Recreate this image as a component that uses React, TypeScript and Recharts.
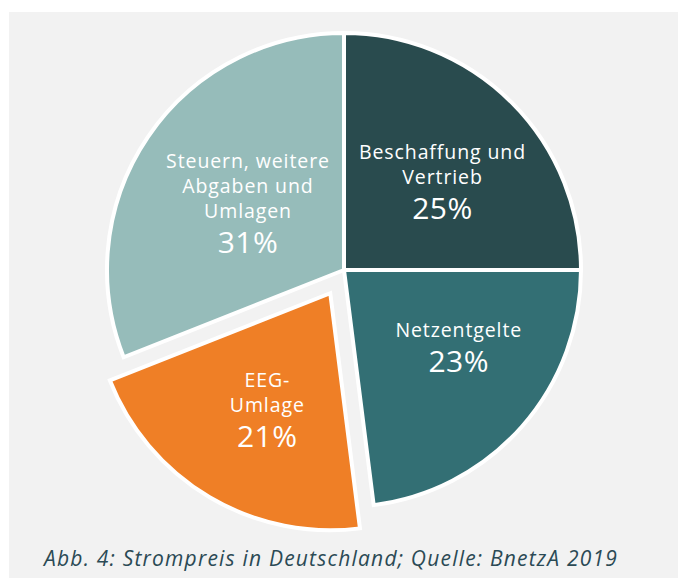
import { PieChart, Pie, Cell } from 'recharts';

const categories = ['Beschaffung und Vertrieb', 'Netzentgelte', 'EEG-Umlage', 'Steuern, weitere Abgaben und Umlagen'];
const shares = [25, 23, 21, 31];
const labelLines = [
  ['Beschaffung und', 'Vertrieb'],
  ['Netzentgelte'],
  ['EEG-', 'Umlage'],
  ['Steuern, weitere', 'Abgaben und', 'Umlagen'],
];
const colors = ['#294b4e', '#336f74', '#ef7f26', '#96bcba'];
const explodedIndex = 2;

const data = categories.map((name, i) => ({ name, value: shares[i] }));

const CX = 344;
const CY = 270;
const R = 237;
const EXPLODE = 27;
const RAD = Math.PI / 180;

// where the exploded slice sits: mid angle measured clockwise from 12 o'clock
const total = shares.reduce((a, b) => a + b, 0);
const before = shares.slice(0, explodedIndex).reduce((a, b) => a + b, 0);
const midFrac = (before + shares[explodedIndex] / 2) / total;
const dx = Math.sin(midFrac * 2 * Math.PI) * EXPLODE;
const dy = -Math.cos(midFrac * 2 * Math.PI) * EXPLODE;

const FONT = '"Open Sans", sans-serif';

// label radius (fraction of R) and small nudges per slice
const radii = [0.57, 0.55, 0.58, 0.5];
const nudge = [[3, 8], [17, -9], [7, -2], [2, 0]];

function makeLabel(show: (i: number) => boolean) {
  return (props: any) => {
    const { cx, cy, midAngle, outerRadius, index } = props;
    if (!show(index)) return null;
    const r = outerRadius * radii[index];
    const x = cx + r * Math.cos(-midAngle * RAD) + nudge[index][0];
    const y = cy + r * Math.sin(-midAngle * RAD) + nudge[index][1];
    const lines = labelLines[index];
    const lineH = 25;
    const pctH = 32;
    const blockH = lines.length * lineH + pctH;
    const top = y - blockH / 2;
    return (
      <g key={`lbl-${index}`}>
        {lines.map((t, j) => (
          <text key={j} x={x} y={top + j * lineH + 18} textAnchor="middle" fill="#fff"
            fontFamily={FONT} fontSize={19.5} letterSpacing={0.9}>
            {t}
          </text>
        ))}
        <text x={x} y={top + lines.length * lineH + 28} textAnchor="middle" fill="#fff"
          fontFamily={FONT} fontSize={30} letterSpacing={0.5}>
          {shares[index]}%
        </text>
      </g>
    );
  };
}

export default function App() {
  return (
    <div style={{ position: 'absolute', left: 0, top: 0, width: 678, height: 578, background: '#fff' }}>
      <div style={{ position: 'absolute', left: 9, top: 12, width: 669, height: 566, background: '#f2f2f2' }} />
      <div style={{ position: 'absolute', left: 0, top: 0 }}>
        <PieChart width={678} height={578} margin={{ top: 0, right: 0, bottom: 0, left: 0 }}>
          <Pie data={data} dataKey="value" nameKey="name" cx={CX} cy={CY} outerRadius={R}
            startAngle={90} endAngle={-270} stroke="#fff" strokeWidth={4}
            labelLine={false} label={makeLabel((i) => i !== explodedIndex)}
            isAnimationActive={false}>
            {data.map((d, i) => (
              <Cell key={d.name} fill={i === explodedIndex ? 'none' : colors[i]}
                stroke={i === explodedIndex ? 'none' : '#fff'} />
            ))}
          </Pie>
          <Pie data={data} dataKey="value" nameKey="name" cx={CX + dx} cy={CY + dy} outerRadius={R}
            startAngle={90} endAngle={-270} stroke="#fff" strokeWidth={4}
            labelLine={false} label={makeLabel((i) => i === explodedIndex)}
            isAnimationActive={false}>
            {data.map((d, i) => (
              <Cell key={d.name} fill={i === explodedIndex ? colors[i] : 'none'}
                stroke={i === explodedIndex ? '#fff' : 'none'} />
            ))}
          </Pie>
        </PieChart>
      </div>
      <div style={{ position: 'absolute', left: 44, top: 545, fontFamily: FONT, fontStyle: 'italic',
        fontSize: 21, letterSpacing: 1.2, color: '#2b4a55', whiteSpace: 'nowrap', lineHeight: '26px' }}>
        Abb. 4: Strompreis in Deutschland; Quelle: BnetzA 2019
      </div>
    </div>
  );
}
